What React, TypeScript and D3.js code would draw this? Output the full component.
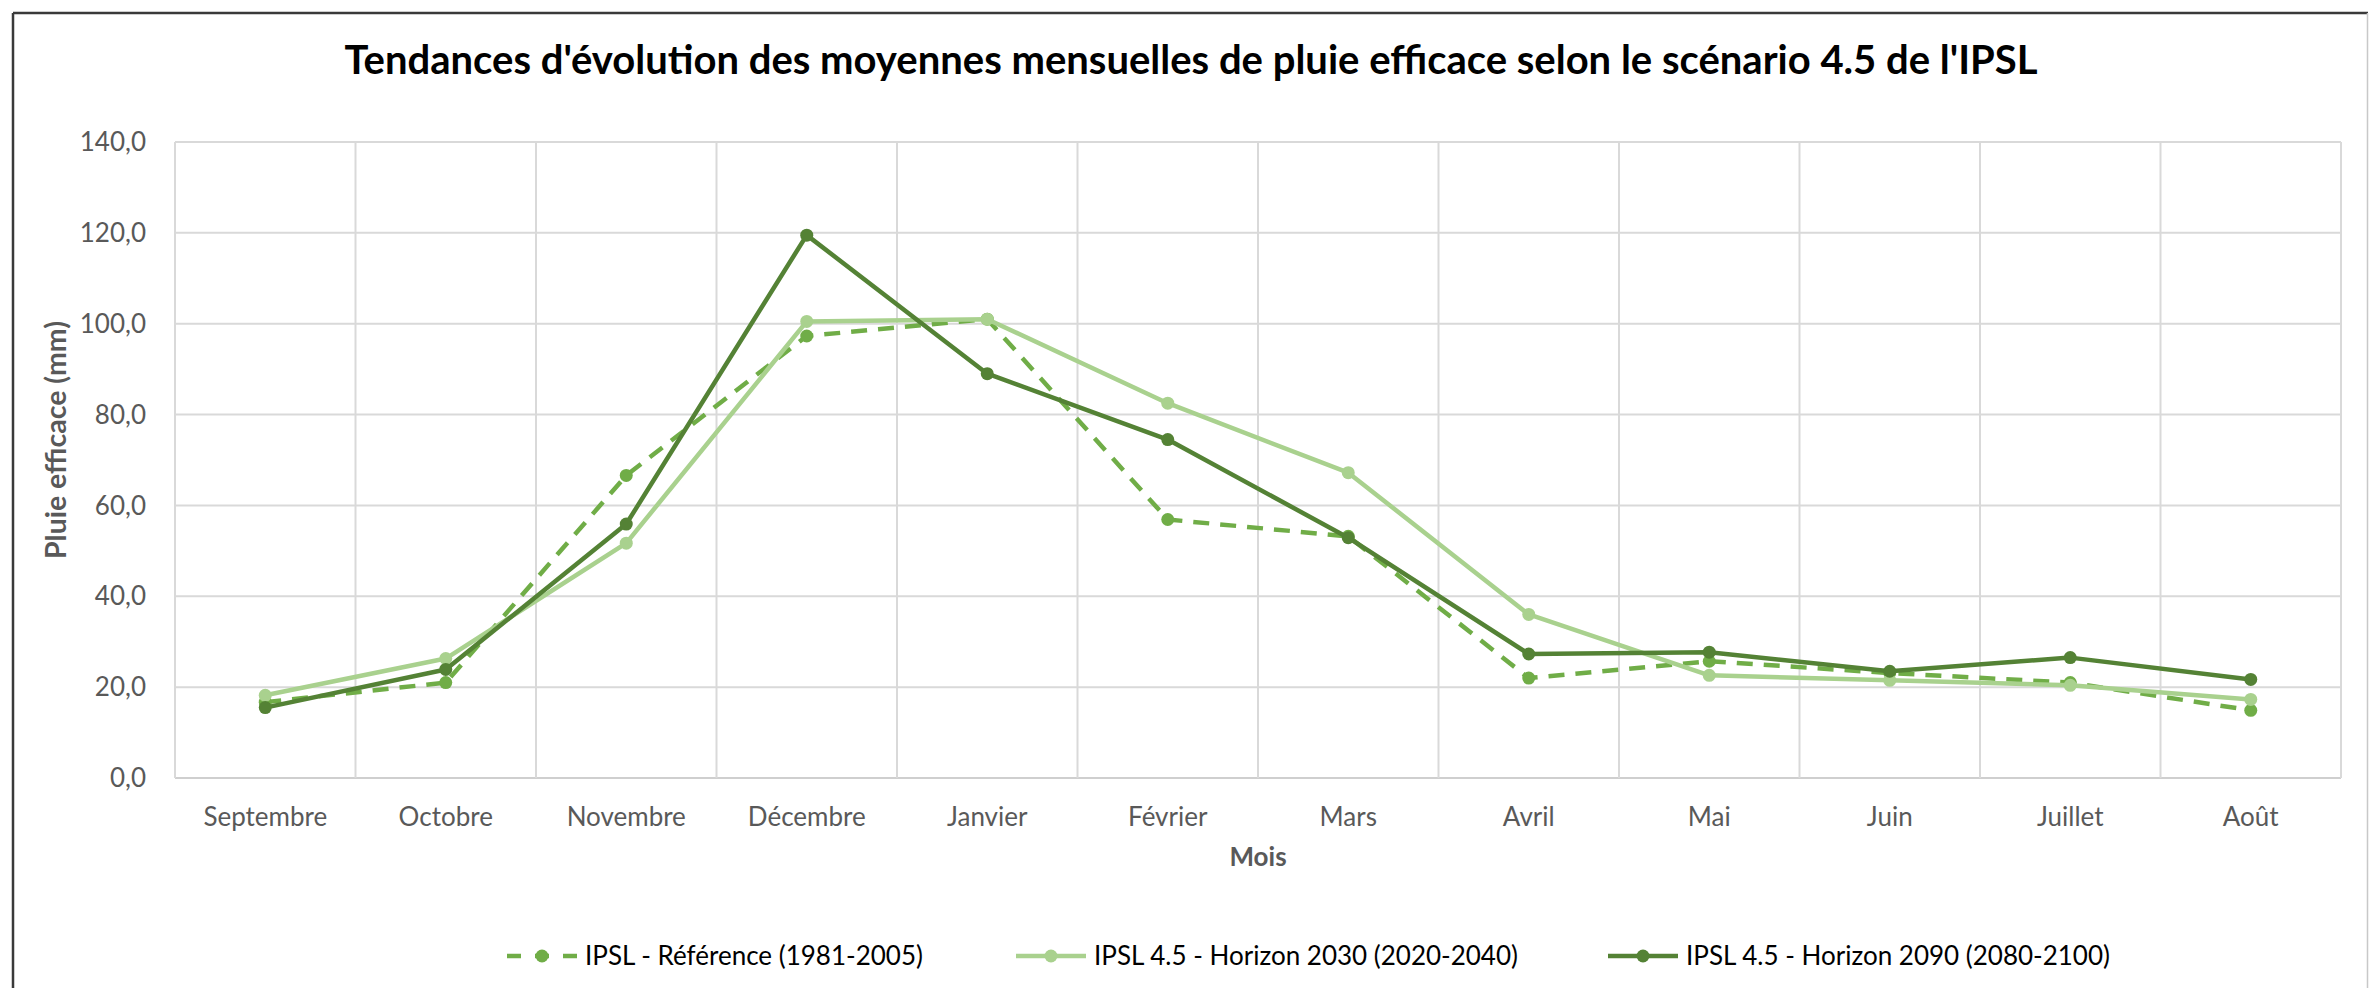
import React, { useEffect } from 'react';
import * as d3 from 'd3';

// monthly values (mm)
const months = ['Septembre', 'Octobre', 'Novembre', 'Décembre', 'Janvier', 'Février', 'Mars', 'Avril', 'Mai', 'Juin', 'Juillet', 'Août'];
const reference = [16.7, 21.0, 66.6, 97.3, 101.0, 56.9, 53.2, 22.0, 25.7, 23.1, 21.0, 14.9];
const horizon2030 = [18.2, 26.3, 51.7, 100.5, 101.0, 82.5, 67.2, 36.0, 22.6, 21.5, 20.4, 17.3];
const horizon2090 = [15.5, 23.9, 55.9, 119.5, 89.0, 74.5, 52.9, 27.3, 27.7, 23.5, 26.5, 21.7];
const yTicks = [0, 20, 40, 60, 80, 100, 120, 140];

const seriesNames = ['IPSL - Référence (1981-2005)', 'IPSL 4.5 - Horizon 2030 (2020-2040)', 'IPSL 4.5 - Horizon 2090 (2080-2100)'];
const seriesValues = [reference, horizon2030, horizon2090];
const seriesColors = ['#70AD47', '#A9D18E', '#548235'];
const seriesDash = ['16,11', null, null];

const W = 2369;
const H = 988;
const plot = { left: 175, right: 2341, top: 142, bottom: 778 };
const font = 'Lato, "Open Sans", sans-serif';
const legendX = [507, 1016, 1608];

export default function App() {
  useEffect(() => {
    document.body.style.margin = '0';
  }, []);

  const x = d3.scaleBand<string>().domain(months).range([plot.left, plot.right]).padding(0);
  const y = d3.scaleLinear().domain([0, 140]).range([plot.bottom, plot.top]);
  const cx = (m: string) => (x(m) as number) + x.bandwidth() / 2;
  const fmt = (v: number) => d3.format('.1f')(v).replace('.', ',');

  const line = d3.line<number>()
    .x((_, i) => cx(months[i]))
    .y(d => y(d));

  const bounds = months.map(m => x(m) as number).concat([plot.right]);

  return (
    <svg width={W} height={H} style={{ display: 'block', background: '#fff' }} fontFamily={font}>
      <rect x={0} y={0} width={W} height={H} fill="#fff" />
      {/* chart border */}
      <line x1={13} x2={2368} y1={13} y2={13} stroke="#3a3a3a" strokeWidth={2.5} />
      <line x1={13} x2={13} y1={13} y2={H} stroke="#3a3a3a" strokeWidth={2.5} />
      <line x1={2367.5} x2={2367.5} y1={13} y2={H} stroke="#c8c8c8" strokeWidth={1.5} />

      <text x={1191} y={74} textAnchor="middle" fontSize={40} fontWeight="bold" fill="#000">
        Tendances d'évolution des moyennes mensuelles de pluie efficace selon le scénario 4.5 de l'IPSL
      </text>

      {/* horizontal gridlines */}
      {yTicks.map(t => (
        <line key={'h' + t} x1={plot.left} x2={plot.right} y1={y(t)} y2={y(t)}
          stroke={t === 0 ? '#cfcfcf' : '#d9d9d9'} strokeWidth={2} />
      ))}
      {/* vertical gridlines between categories */}
      {bounds.map((b, i) => (
        <line key={'v' + i} x1={b} x2={b} y1={plot.top} y2={plot.bottom} stroke="#d9d9d9" strokeWidth={2} />
      ))}

      {yTicks.map(t => (
        <text key={'yt' + t} x={146} y={y(t)} dy="0.35em" textAnchor="end" fontSize={26} fill="#595959">
          {fmt(t)}
        </text>
      ))}
      {months.map(m => (
        <text key={'xt' + m} x={cx(m)} y={826} textAnchor="middle" fontSize={26} fill="#595959">{m}</text>
      ))}

      <text x={(plot.left + plot.right) / 2} y={866} textAnchor="middle" fontSize={26} fontWeight="bold" fill="#595959">Mois</text>
      <text transform={`translate(66,${(plot.top + plot.bottom) / 2 - 20}) rotate(-90)`} textAnchor="middle"
        fontSize={28.5} fontWeight="bold" fill="#595959">Pluie efficace (mm)</text>

      {seriesValues.map((vals, s) => (
        <g key={'s' + s}>
          <path d={line(vals) || ''} fill="none" stroke={seriesColors[s]} strokeWidth={4.5}
            strokeDasharray={seriesDash[s] || undefined} strokeLinejoin="round" />
          {vals.map((v, i) => (
            <circle key={i} cx={cx(months[i])} cy={y(v)} r={6.5} fill={seriesColors[s]} />
          ))}
        </g>
      ))}

      {seriesNames.map((name, s) => (
        <g key={'lg' + s} transform={`translate(${legendX[s]},956)`}>
          <line x1={0} x2={70} y1={0} y2={0} stroke={seriesColors[s]} strokeWidth={4.5}
            strokeDasharray={seriesDash[s] ? '14,14' : undefined} />
          <circle cx={35} cy={0} r={6.5} fill={seriesColors[s]} />
          <text x={78} y={0} dy="0.35em" fontSize={26} fill="#000">{name}</text>
        </g>
      ))}
    </svg>
  );
}
